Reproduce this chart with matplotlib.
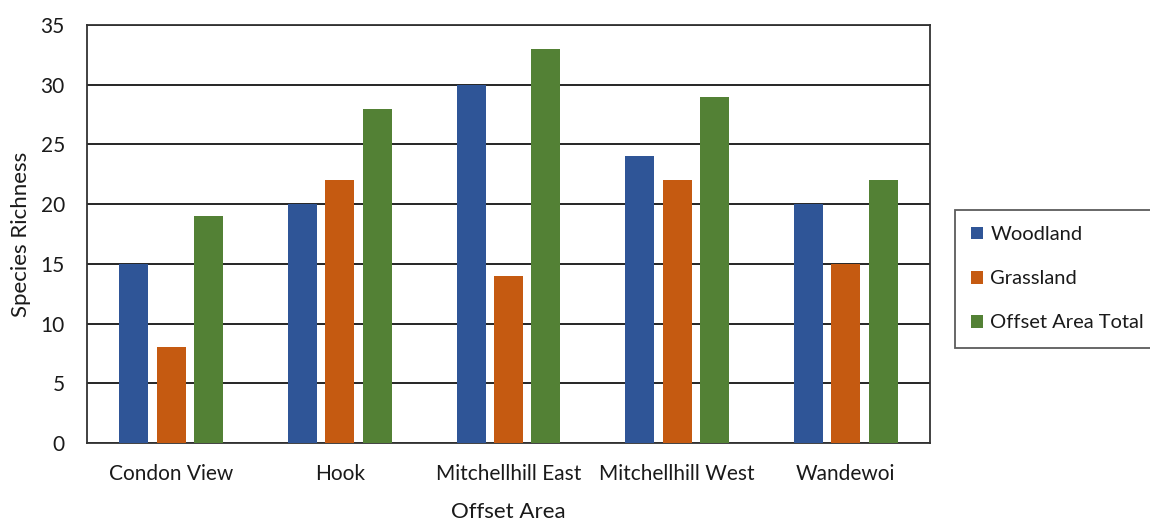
import matplotlib
matplotlib.use("Agg")
import matplotlib.pyplot as plt
import numpy as np

plt.rcParams['font.family'] = ['Lato', 'DejaVu Sans']

areas = ["Condon View", "Hook", "Mitchellhill East", "Mitchellhill West", "Wandewoi"]
woodland = [15, 20, 30, 24, 20]
grassland = [8, 22, 14, 22, 15]
offset_total = [19, 28, 33, 29, 22]

series = [
    ("Woodland", woodland, "#2F5597"),
    ("Grassland", grassland, "#C55A11"),
    ("Offset Area Total", offset_total, "#538135"),
]

text_color = "#1a1a1a"

fig = plt.figure(figsize=(11.5, 5.23), dpi=100)
ax = fig.add_axes([87 / 1150, 80 / 523, 843 / 1150, 418 / 523])

x = np.arange(len(areas))
width = 0.172
step = 0.222
for i, (name, vals, color) in enumerate(series):
    ax.bar(x + (i - 1) * step, vals, width, color=color, label=name, zorder=3)

ax.set_xlim(-0.5, len(areas) - 0.5)
ax.set_ylim(0, 35)
ax.set_yticks(range(0, 36, 5))
ax.yaxis.grid(True, color="black", linewidth=1.2, zorder=0)
ax.set_axisbelow(True)
ax.set_xticks(x)
ax.set_xticklabels(areas)
ax.tick_params(axis="both", length=0, labelsize=15, colors=text_color)
ax.tick_params(axis="x", pad=15)
ax.tick_params(axis="y", pad=16)
for s in ax.spines.values():
    s.set_color("#333333")
    s.set_linewidth(1.3)

ax.set_xlabel("Offset Area", fontsize=16, color=text_color)
ax.set_ylabel("Species Richness", fontsize=16, color=text_color)
ax.xaxis.set_label_coords(0.5, -0.142)
ax.yaxis.set_label_coords(-0.066, 0.5)

leg = fig.legend(loc="upper left", bbox_to_anchor=(955 / 1150, 1 - 210 / 523),
                 bbox_transform=fig.transFigure, fontsize=14.5,
                 frameon=True, fancybox=False, edgecolor="#333333",
                 handlelength=0.6, handleheight=0.6, handletextpad=0.35,
                 labelspacing=1.35, borderpad=0.8, borderaxespad=0)
leg.get_frame().set_linewidth(1.3)
for t in leg.get_texts():
    t.set_color(text_color)

fig.savefig("out.png", dpi=100)
